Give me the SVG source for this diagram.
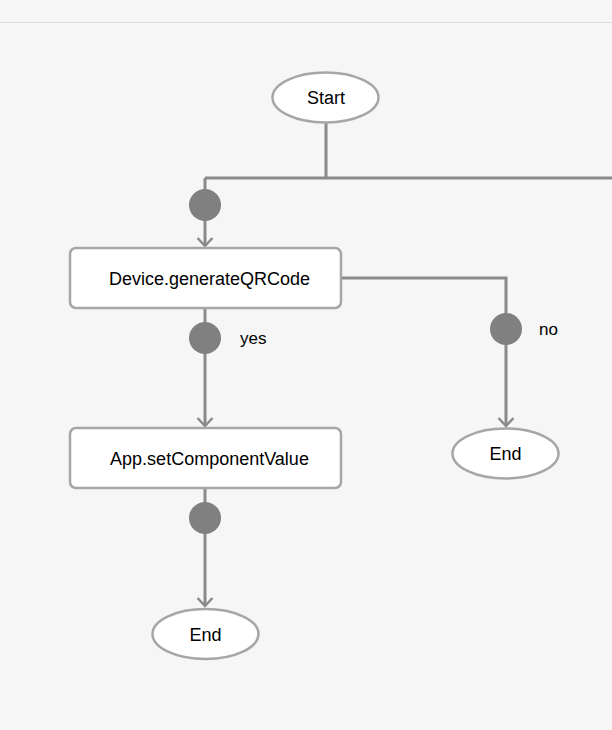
<svg xmlns="http://www.w3.org/2000/svg" width="612" height="730" viewBox="0 0 612 730">
<style>
.bg{fill:#f6f6f6}
.node{fill:#ffffff;stroke:#a6a6a6;stroke-width:2.5}
.edge{fill:none;stroke:#8a8a8a;stroke-width:3}
.dot{fill:#808080}
.t{font-family:"Liberation Sans",Arial,sans-serif;font-size:18px;fill:#000;text-anchor:middle}
.lbl{font-family:"Liberation Sans",Arial,sans-serif;font-size:17px;fill:#000}
</style>
<defs>
<marker id="arr" markerWidth="20" markerHeight="20" viewBox="-10 -10 20 20" refX="0" refY="0" orient="auto" markerUnits="userSpaceOnUse">
<path d="M-8,-7.5 L0,0 L-8,7.5" fill="none" stroke="#8a8a8a" stroke-width="2.5"/>
</marker>
</defs>
<rect class="bg" x="0" y="0" width="612" height="730"/>
<line x1="0" y1="22.5" x2="612" y2="22.5" stroke="#dddddd" stroke-width="1"/>
<g id="connectors">
<path class="edge" d="M326,123 V178"/>
<path class="edge" d="M205,178 H612"/>
<path class="edge" d="M205,178 V246" marker-end="url(#arr)"/>
<circle class="dot" cx="205" cy="205" r="16"/>
<path class="edge" d="M205,308 V426" marker-end="url(#arr)"/>
<circle class="dot" cx="205" cy="338" r="16"/>
<text class="lbl" x="240" y="344">yes</text>
<path class="edge" d="M341,278 H506 V426" marker-end="url(#arr)"/>
<circle class="dot" cx="506" cy="329" r="16"/>
<text class="lbl" x="539" y="335">no</text>
<path class="edge" d="M205,488 V606" marker-end="url(#arr)"/>
<circle class="dot" cx="205" cy="518" r="16"/>
</g>
<g id="start">
<ellipse class="node" cx="325.5" cy="97.5" rx="53" ry="25"/>
<text class="t" x="326" y="104">Start</text>
</g>
<g id="generateQRCode">
<rect class="node" x="70" y="248" width="271" height="60" rx="6"/>
<text class="t" x="209.5" y="285">Device.generateQRCode</text>
</g>
<g id="setComponentValue">
<rect class="node" x="70" y="428" width="271" height="60" rx="6"/>
<text class="t" x="209.5" y="465">App.setComponentValue</text>
</g>
<g id="end1">
<ellipse class="node" cx="505.5" cy="453.5" rx="53" ry="25"/>
<text class="t" x="505.5" y="460">End</text>
</g>
<g id="end2">
<ellipse class="node" cx="205.5" cy="634" rx="53" ry="25"/>
<text class="t" x="205.5" y="640.5">End</text>
</g>
</svg>
